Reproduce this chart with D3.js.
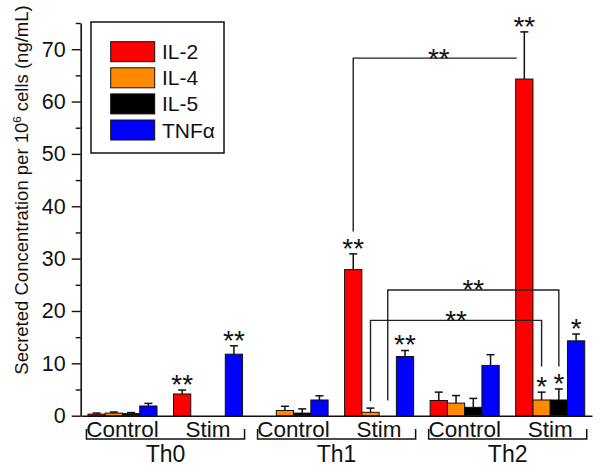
<!DOCTYPE html>
<html><head><meta charset="utf-8">
<script src="https://cdn.jsdelivr.net/npm/d3@7"></script>
<style>
body{margin:0;background:#fff}
svg{display:block}
text{font-family:"Liberation Sans",Arial,Helvetica,sans-serif;fill:#111}
</style>
</head><body>
<svg id="chart" width="600" height="469"></svg>
<script>
// ---------- data ----------
const groups = ["Th0", "Th1", "Th2"];
const conditions = ["Control", "Stim"];
const cytokines = ["IL-2", "IL-4", "IL-5", "TNFα"];
const cytokineColors = ["#ff0000", "#ff8a00", "#000000", "#0000ff"];
// order of values: Th0 Control, Th0 Stim, Th1 Control, Th1 Stim, Th2 Control, Th2 Stim
const il2Means  = [0.3, 4.15, 0,   27.9, 2.9,  64.3];
const il2Errors = [0.2, 0.75, 0,   3.0,  1.6,  9.0];
const il4Means  = [0.5, 0,    1.0, 0.65, 2.4,  3.0];
const il4Errors = [0.2, 0,    0.8, 0.8,  1.45, 1.5];
const il5Means  = [0.4, 0,    0.5, 0,    1.6,  3.0];
const il5Errors = [0.2, 0,    0.8, 0,    1.7,  2.1];
const tnfMeans  = [1.85, 11.75, 3.0, 11.3, 9.6, 14.3];
const tnfErrors = [0.5,  1.6,   0.8, 1.15, 2.05, 1.3];
const yTicks = [0, 10, 20, 30, 40, 50, 60, 70];
const yMinorTicks = [5, 15, 25, 35, 45, 55, 65, 75];
const yLabel = ["Secreted Concentration per 10", "6", " cells (ng/mL)"];
// significance marks above single bars: [group, condition, cytokine, label]
const starMarks = [
  ["Th0", "Stim", "IL-2", "**"], ["Th0", "Stim", "TNFα", "**"],
  ["Th1", "Stim", "IL-2", "**"], ["Th1", "Stim", "TNFα", "**"],
  ["Th2", "Stim", "IL-2", "**"], ["Th2", "Stim", "IL-4", "*"],
  ["Th2", "Stim", "IL-5", "*"],  ["Th2", "Stim", "TNFα", "*"]
];
// comparison brackets (levels in data units)
const bracketFrom  = [["Th1","Stim","IL-2"], ["Th1","Stim","IL-5"], ["Th1","Stim","IL-4"]];
const bracketTo    = [["Th2","Stim","IL-2"], ["Th2","Stim","IL-5"], ["Th2","Stim","IL-4"]];
const bracketLevel = [68.3, 24.0, 18.2];
const bracketLeftEnd  = [35.2, 2.9, 2.8];
const bracketRightEnd = [null, 9.4, 9.4];
const bracketLabel = ["**", "**", "**"];

// ---------- build table ----------
const means = [il2Means, il4Means, il5Means, tnfMeans];
const errs = [il2Errors, il4Errors, il5Errors, tnfErrors];
const subgroups = [];
groups.forEach(g => conditions.forEach(c => subgroups.push(g + "|" + c)));
const rows = [];
subgroups.forEach((s, si) => cytokines.forEach((k, ki) => {
  rows.push({sub: s, cyt: k, ci: ki, v: means[ki][si], e: errs[ki][si]});
}));
const lookup = (g, c, k) => rows.find(r => r.sub === g + "|" + c && r.cyt === k);

// ---------- scales ----------
const svg = d3.select("#chart");
const y = d3.scaleLinear().domain([0, 75]).range([415.7, 23]);
const x0 = d3.scaleBand().domain(subgroups).range([80.7, 592]).paddingInner(0.193).paddingOuter(0.085);
const x1 = d3.scaleBand().domain(cytokines).range([0, x0.bandwidth()]);
const cx = (g, c, k) => x0(g + "|" + c) + x1(k) + x1.bandwidth() / 2;
const color = d3.scaleOrdinal().domain(cytokines).range(cytokineColors);

// ---------- axes ----------
const yAxis = svg.append("g").attr("transform", "translate(80.7,0)")
  .call(d3.axisLeft(y).tickValues(yTicks).tickSize(9).tickSizeOuter(0).tickPadding(6));
yAxis.select(".domain").attr("stroke", "#111").attr("stroke-width", 1.6);
yAxis.selectAll(".tick line").attr("stroke", "#111").attr("stroke-width", 1.4);
yAxis.selectAll(".tick text").style("font-size", "21.5px").attr("fill", "#111")
  .attr("font-family", null);
const yMinor = svg.append("g").attr("transform", "translate(80.7,0)")
  .call(d3.axisLeft(y).tickValues(yMinorTicks).tickSize(5).tickFormat(""));
yMinor.select(".domain").remove();
yMinor.selectAll(".tick line").attr("stroke", "#111").attr("stroke-width", 1.4);

const xAxis = svg.append("g").attr("transform", `translate(0,${y(0)})`)
  .call(d3.axisBottom(x0).tickSize(0).tickSizeOuter(0).tickFormat(""));
xAxis.select(".domain").attr("stroke", "#111").attr("stroke-width", 1.6);

// ---------- bars ----------
const drawn = rows.filter(r => r.v > 0);
svg.append("g").selectAll("rect").data(drawn).join("rect")
  .attr("x", d => x0(d.sub) + x1(d.cyt))
  .attr("y", d => y(d.v))
  .attr("width", x1.bandwidth())
  .attr("height", d => y(0) - y(d.v))
  .attr("fill", d => color(d.cyt))
  .attr("stroke", "#111").attr("stroke-width", 1);

// error bars
const eb = svg.append("g").attr("stroke", "#111").attr("stroke-width", 1.5);
drawn.filter(d => d.e > 0).forEach(d => {
  const xc = x0(d.sub) + x1(d.cyt) + x1.bandwidth() / 2;
  eb.append("line").attr("x1", xc).attr("x2", xc).attr("y1", y(d.v)).attr("y2", y(d.v + d.e));
  eb.append("line").attr("x1", xc - 4).attr("x2", xc + 4).attr("y1", y(d.v + d.e)).attr("y2", y(d.v + d.e));
});

// ---------- significance marks ----------
const starSize = 28;
const starBase = yc => yc + 0.57 * starSize;
starMarks.forEach(([g, c, k, lab]) => {
  const r = lookup(g, c, k);
  const yc = y(r.v + r.e) - 12;
  svg.append("text").attr("x", cx(g, c, k)).attr("y", starBase(yc))
    .attr("text-anchor", "middle").style("font-size", starSize + "px").text(lab);
});

const br = svg.append("g").attr("stroke", "#222").attr("stroke-width", 1.4).attr("fill", "none");
bracketFrom.forEach((f, i) => {
  const t = bracketTo[i];
  const xa = cx(...f), xb = cx(...t);
  const yl = y(bracketLevel[i]);
  const xEnd = bracketRightEnd[i] === null ? x0(t[0] + "|" + t[1]) + x1(t[2]) + 1 : xb;
  let path = `M${xa},${y(bracketLeftEnd[i])}V${yl}H${xEnd}`;
  if (bracketRightEnd[i] !== null) path += `V${y(bracketRightEnd[i])}`;
  br.append("path").attr("d", path);
  svg.append("text").attr("x", (xa + xb) / 2).attr("y", starBase(yl - 6.5))
    .attr("text-anchor", "middle").style("font-size", starSize + "px").text(bracketLabel[i]);
});

// ---------- group labels ----------
const gl = svg.append("g");
groups.forEach(g => {
  const xs = x0(g + "|Control") - 1.5, xe = x0(g + "|Stim") + x0.bandwidth() + 2;
  gl.append("path").attr("d", `M${xs},429V439H${xe}V429`)
    .attr("stroke", "#111").attr("stroke-width", 1.5).attr("fill", "none");
  conditions.forEach(c => {
    gl.append("text").attr("x", x0(g + "|" + c) + x0.bandwidth() / 2).attr("y", 437)
      .attr("text-anchor", "middle").style("font-size", "22.5px").text(c);
  });
  gl.append("text").attr("x", (xs + xe) / 2).attr("y", 462)
    .attr("text-anchor", "middle").style("font-size", "23px").text(g);
});

// ---------- y title ----------
const yt = svg.append("text").attr("transform", "translate(28,190) rotate(-90)")
  .attr("text-anchor", "middle").style("font-size", "18.5px");
yt.append("tspan").text(yLabel[0]);
yt.append("tspan").attr("dy", -7).style("font-size", "11.5px").text(yLabel[1]);
yt.append("tspan").attr("dy", 7).text(yLabel[2]);

// ---------- legend ----------
const lg = svg.append("g");
lg.append("rect").attr("x", 91).attr("y", 22).attr("width", 133).attr("height", 131)
  .attr("fill", "#fff").attr("stroke", "#111").attr("stroke-width", 1.5);
cytokines.forEach((k, i) => {
  const yy = 41.7 + i * 26.1;
  lg.append("rect").attr("x", 110.7).attr("y", yy).attr("width", 44).attr("height", 20)
    .attr("fill", color(k)).attr("stroke", "#111").attr("stroke-width", 1);
  lg.append("text").attr("x", 162).attr("y", yy + 10 + 7.5).style("font-size", "21px").text(k);
});
</script>
</body></html>
